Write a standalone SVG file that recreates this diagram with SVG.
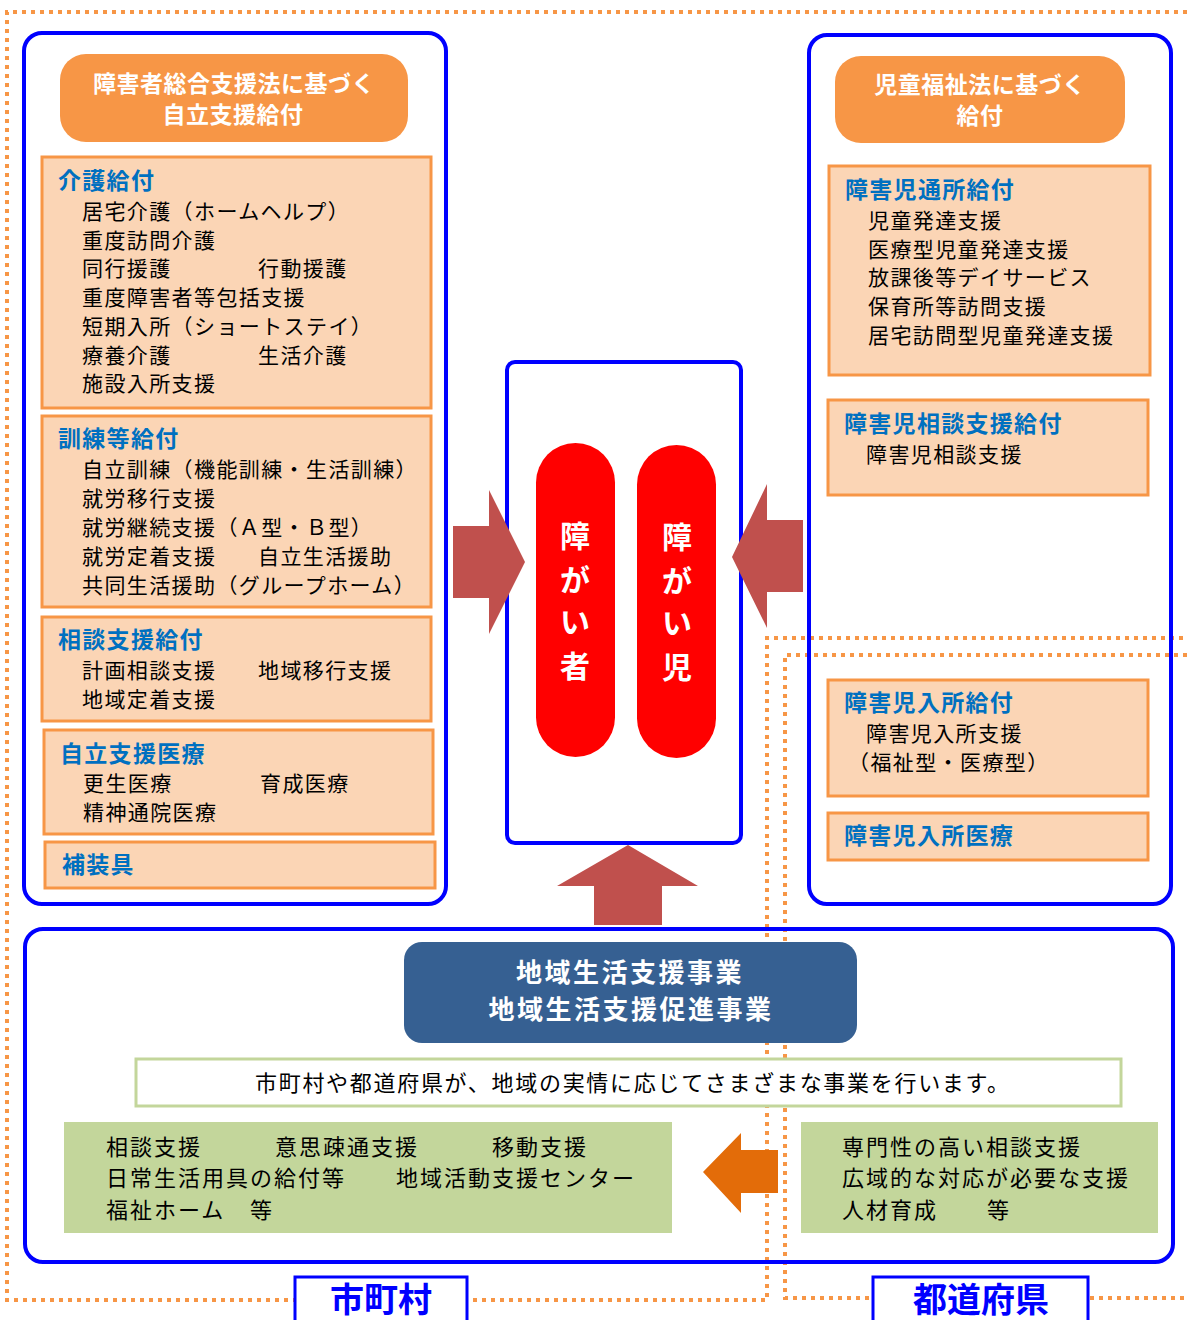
<svg xmlns="http://www.w3.org/2000/svg" width="1187" height="1320" viewBox="0 0 1187 1320">
<style>
text{font-family:"Noto Sans CJK JP","Noto Sans",sans-serif}
.dot{fill:none;stroke:#F79646;stroke-width:4;stroke-dasharray:4 5}
.frame{fill:none;stroke:#0000FF;stroke-width:4}
.hdr{fill:#F79646}
.hdrt{fill:#fff;font-weight:bold;font-size:23px;text-anchor:middle;letter-spacing:0.5px}
.sub{fill:#FBD5B5;stroke:#F79646;stroke-width:3}
.ttl{fill:#0070C0;font-weight:bold;font-size:23px;letter-spacing:1.3px}
.itm{fill:#000;font-size:21px;letter-spacing:1.4px}
.pill{fill:#FF0000}
.pillt{fill:#fff;font-weight:bold;font-size:30px;text-anchor:middle}
.arr{fill:#C0504D}
.grn{fill:#C3D69B}
.gt{fill:#000;font-size:22px;letter-spacing:2px}
.lbl{fill:#fff;stroke:#0000FF;stroke-width:3}
.lblt{fill:#0000FF;font-weight:bold;font-size:34px;text-anchor:middle}
</style>

<g id="regions">
<path class="dot" d="M1187,12 H7 V1300 H767 V638 H1187"/>
<path class="dot" d="M1187,655 H785 V1298 H1187"/>
</g>

<g id="frames">
<rect class="frame" x="24" y="33" width="422" height="871" rx="18"/>
<rect class="frame" x="809" y="35" width="362" height="869" rx="18"/>
<rect class="frame" x="25" y="929" width="1148" height="333" rx="18"/>
</g>

<g id="left-header">
<rect class="hdr" x="60" y="54" width="348" height="88" rx="26"/>
<text class="hdrt" x="234" y="92">障害者総合支援法に基づく</text>
<text class="hdrt" x="233" y="123">自立支援給付</text>
</g>

<g id="kaigo">
<rect class="sub" x="42" y="157" width="389" height="251"/>
<text class="ttl" x="58" y="189">介護給付</text>
<text class="itm" x="82" y="219">居宅介護（ホームヘルプ）</text>
<text class="itm" x="82" y="248">重度訪問介護</text>
<text class="itm" x="82" y="276">同行援護</text>
<text class="itm" x="258" y="276">行動援護</text>
<text class="itm" x="82" y="305">重度障害者等包括支援</text>
<text class="itm" x="82" y="334">短期入所（ショートステイ）</text>
<text class="itm" x="82" y="363">療養介護</text>
<text class="itm" x="258" y="363">生活介護</text>
<text class="itm" x="82" y="391">施設入所支援</text>
</g>

<g id="kunren">
<rect class="sub" x="42" y="416" width="389" height="191"/>
<text class="ttl" x="58" y="447">訓練等給付</text>
<text class="itm" x="82" y="477">自立訓練（機能訓練・生活訓練）</text>
<text class="itm" x="82" y="506">就労移行支援</text>
<text class="itm" x="82" y="535">就労継続支援（Ａ型・Ｂ型）</text>
<text class="itm" x="82" y="564">就労定着支援</text>
<text class="itm" x="258" y="564">自立生活援助</text>
<text class="itm" x="82" y="593">共同生活援助（グループホーム）</text>
</g>

<g id="soudan">
<rect class="sub" x="42" y="617" width="389" height="104"/>
<text class="ttl" x="58" y="648">相談支援給付</text>
<text class="itm" x="82" y="678">計画相談支援</text>
<text class="itm" x="258" y="678">地域移行支援</text>
<text class="itm" x="82" y="707">地域定着支援</text>
</g>

<g id="iryou">
<rect class="sub" x="44" y="730" width="389" height="104"/>
<text class="ttl" x="60" y="762">自立支援医療</text>
<text class="itm" x="83" y="791">更生医療</text>
<text class="itm" x="260" y="791">育成医療</text>
<text class="itm" x="83" y="820">精神通院医療</text>
</g>

<g id="hosougu">
<rect class="sub" x="45" y="842" width="390" height="46"/>
<text class="ttl" x="62" y="873">補装具</text>
</g>

<g id="right-header">
<rect class="hdr" x="835" y="56" width="290" height="87" rx="26"/>
<text class="hdrt" x="980" y="93">児童福祉法に基づく</text>
<text class="hdrt" x="980" y="124">給付</text>
</g>

<g id="tsusho">
<rect class="sub" x="829" y="166" width="321" height="209"/>
<text class="ttl" x="845" y="198">障害児通所給付</text>
<text class="itm" x="868" y="228">児童発達支援</text>
<text class="itm" x="868" y="257">医療型児童発達支援</text>
<text class="itm" x="868" y="285">放課後等デイサービス</text>
<text class="itm" x="868" y="314">保育所等訪問支援</text>
<text class="itm" x="868" y="343">居宅訪問型児童発達支援</text>
</g>

<g id="jisoudan">
<rect class="sub" x="828" y="400" width="320" height="95"/>
<text class="ttl" x="844" y="432">障害児相談支援給付</text>
<text class="itm" x="866" y="462">障害児相談支援</text>
</g>

<g id="nyusho">
<rect class="sub" x="828" y="680" width="320" height="116"/>
<text class="ttl" x="844" y="711">障害児入所給付</text>
<text class="itm" x="866" y="741">障害児入所支援</text>
<text class="itm" x="848" y="770">（福祉型・医療型）</text>
</g>

<g id="nyusho-iryou">
<rect class="sub" x="828" y="813" width="320" height="47"/>
<text class="ttl" x="844" y="844">障害児入所医療</text>
</g>

<g id="center">
<rect class="frame" x="507" y="362" width="234" height="481" rx="8" style="fill:#fff"/>
</g>

<g id="shogaisha">
<rect class="pill" x="536" y="443" width="79" height="314" rx="39.5"/>
<text class="pillt" x="575" y="547">障</text>
<text class="pillt" x="575" y="591">が</text>
<text class="pillt" x="575" y="633">い</text>
<text class="pillt" x="575" y="677">者</text>
</g>

<g id="shogaiji">
<rect class="pill" x="637" y="445" width="79" height="313" rx="39.5"/>
<text class="pillt" x="677" y="548">障</text>
<text class="pillt" x="677" y="592">が</text>
<text class="pillt" x="677" y="634">い</text>
<text class="pillt" x="677" y="678">児</text>
</g>

<g id="chiiki">
<rect x="404" y="942" width="453" height="101" rx="18" fill="#366092"/>
<text x="630" y="982" style="fill:#fff;font-weight:bold;font-size:26px;text-anchor:middle;letter-spacing:2.5px">地域生活支援事業</text>
<text x="631" y="1019" style="fill:#fff;font-weight:bold;font-size:26px;text-anchor:middle;letter-spacing:2.5px">地域生活支援促進事業</text>
</g>

<g id="note">
<rect x="136" y="1059" width="985" height="47" fill="#fff" stroke="#C3D69B" stroke-width="3"/>
<text x="255" y="1091" class="gt" style="letter-spacing:1.7px">市町村や都道府県が、地域の実情に応じてさまざまな事業を行います。</text>
</g>

<g id="shichoson-jigyo">
<rect class="grn" x="64" y="1122" width="608" height="111"/>
<text class="gt" x="106" y="1155">相談支援</text>
<text class="gt" x="275" y="1155">意思疎通支援</text>
<text class="gt" x="492" y="1155">移動支援</text>
<text class="gt" x="106" y="1186">日常生活用具の給付等</text>
<text class="gt" x="396" y="1186">地域活動支援センター</text>
<text class="gt" x="106" y="1218">福祉ホーム</text>
<text class="gt" x="250" y="1218">等</text>
</g>

<g id="todofuken-jigyo">
<rect class="grn" x="801" y="1122" width="357" height="111"/>
<text class="gt" x="842" y="1155">専門性の高い相談支援</text>
<text class="gt" x="842" y="1186">広域的な対応が必要な支援</text>
<text class="gt" x="842" y="1218">人材育成</text>
<text class="gt" x="987" y="1218">等</text>
</g>

<g id="connectors">
<polygon class="arr" points="453,526 489,526 489,490 525,562 489,634 489,598 453,598"/>
<polygon class="arr" points="803,520 767,520 767,484 732,557 767,628 767,592 803,592"/>
<polygon class="arr" points="628,845 698,886 662,886 662,925 594,925 594,886 557,886"/>
<polygon fill="#E36C09" points="703,1172 741,1133 741,1150 778,1150 778,1193 741,1193 741,1213"/>
</g>

<g id="shichoson">
<rect class="lbl" x="295" y="1277" width="172" height="50"/>
<text class="lblt" x="381" y="1312">市町村</text>
</g>

<g id="todofuken">
<rect class="lbl" x="873" y="1277" width="215" height="50"/>
<text class="lblt" x="981" y="1312">都道府県</text>
</g>
</svg>
